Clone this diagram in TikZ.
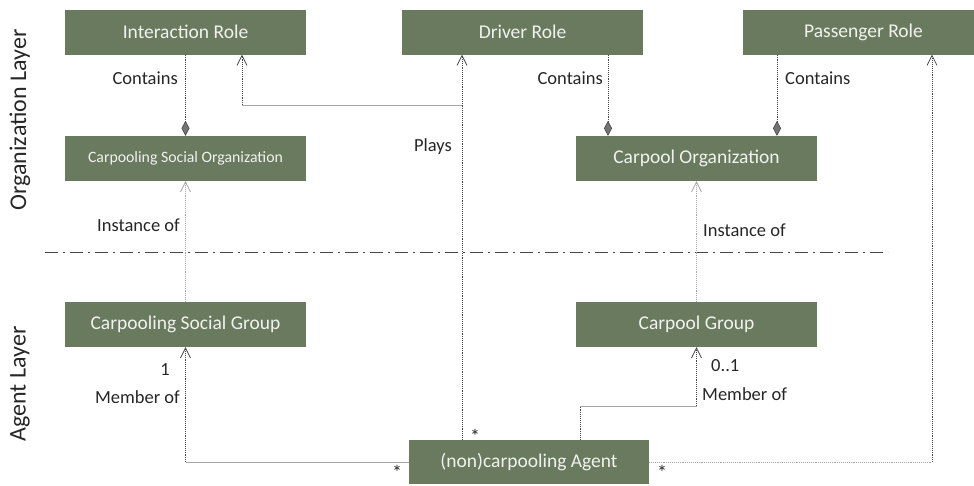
\documentclass[tikz,border=0pt]{standalone}
\usepackage{fontspec}
\setmainfont{Carlito}
\usetikzlibrary{arrows.meta}
\definecolor{boxgreen}{RGB}{106,122,94}
\definecolor{boxtext}{RGB}{240,242,238}
\definecolor{lbltext}{RGB}{38,38,38}
\definecolor{darkline}{RGB}{70,70,70}
\definecolor{lightline}{RGB}{165,165,165}
\tikzset{
  box/.style={fill=boxgreen, text=boxtext, minimum width=241pt, minimum height=45pt, inner sep=0pt, font=\fontsize{19.5}{22}\selectfont},
  lbl/.style={text=lbltext, inner sep=0pt, font=\fontsize{18.5}{21}\selectfont},
  mult/.style={text=lbltext, inner sep=0pt, text depth=0pt, anchor=base, font=\fontsize{20}{22}\selectfont},
  layer/.style={text=lbltext, inner sep=0pt, rotate=90, font=\fontsize{24}{26}\selectfont},
  dk/.style={densely dotted, darkline, line width=0.9pt},
  lt/.style={densely dotted, lightline, line width=0.9pt},
  gl/.style={lightline, line width=0.9pt},
  openarrow/.style={-{Straight Barb[length=10pt,width=10pt,line width=0.7pt]}},
  composition/.style={-{Diamond[length=15pt,width=8pt,fill=black!55,line width=0.6pt]}},
  sep/.style={dash pattern=on 13pt off 5pt on 2pt off 5pt, darkline, line width=0.8pt}
}
\begin{document}
\begin{tikzpicture}[x=1pt,y=-1pt]
\useasboundingbox (0,0) rectangle (974,485);

% boxes
\node[box] (IR) at (185.5,32) {Interaction Role};
\node[box] (DR) at (522.5,32) {Driver Role};
\node[box] (PR) at (863.5,32) {Passenger Role};
\node[box, font=\fontsize{15.8}{18}\selectfont] (CSO) at (185.5,158.5) {Carpooling Social Organization};
\node[box] (CO) at (696.5,158.5) {Carpool Organization};
\node[box] (CSG) at (185.5,324.5) {Carpooling Social Group};
\node[box] (CG) at (696.5,324.5) {Carpool Group};
\node[box, minimum width=240pt, minimum height=44pt] (AG) at (529,462) {(non)carpooling Agent};

% layer labels
\node[layer] (OL) at (20,120) {Organization Layer};
\node[layer] (AL) at (20,384) {Agent Layer};

% separator
\coordinate (sepL) at (45,252);
\coordinate (sepR) at (888,252);
\draw[sep] (sepL) -- (sepR);

% Contains
\draw[dk, composition] (IR.south) -- (CSO.north);
\draw[dk, composition] (DR.south -| 608,0) -- (CO.north -| 608,0);
\draw[dk, composition] (PR.south -| 777,0) -- (CO.north -| 777,0);
\node[lbl, anchor=east] (c1) at (178,78) {Contains};
\node[lbl, anchor=east] (c2) at (603,78) {Contains};
\node[lbl, anchor=west] (c3) at (785,78) {Contains};

% Plays
\coordinate (pj) at (462,105);
\draw[dk, openarrow] (AG.north -| pj) -- (DR.south -| pj);
\draw[gl] (pj) -- (242,105);
\draw[dk, openarrow] (242,105) -- (IR.south -| 242,0);
\node[lbl, anchor=east] (plays) at (452,147) {Plays};
\node[mult] (m1) at (475,443) {*};

% Instance of
\draw[lt, openarrow] (CSG.north) -- (CSO.south);
\draw[lt, openarrow] (CG.north) -- (CO.south);
\node[lbl, anchor=east] (i1) at (180,225) {Instance of};
\node[lbl, anchor=west] (i2) at (703,230) {Instance of};

% Member of (social group)
\coordinate (mb1) at (185.5,462);
\draw[gl] (AG.west) -- (mb1);
\draw[dk, openarrow] (mb1) -- (CSG.south);
\node[lbl] (one) at (165,370) {1};
\node[lbl, anchor=east] (mo1) at (180,397) {Member of};
\node[mult] (m2) at (397,479) {*};

% Member of (carpool group)
\coordinate (mb2a) at (580,406);
\coordinate (mb2b) at (696.5,406);
\draw[dk] (AG.north -| mb2a) -- (mb2a);
\draw[gl] (mb2a) -- (mb2b);
\draw[dk, openarrow] (mb2b) -- (CG.south);
\node[lbl, anchor=west] (zo) at (711,366) {0..1};
\node[lbl, anchor=west] (mo2) at (702,394) {Member of};

% Plays passenger
\coordinate (pp) at (932,462);
\draw[lt] (AG.east) -- (pp);
\draw[dk, openarrow] (pp) -- (PR.south -| pp);
\node[mult] (m3) at (662,479) {*};
\end{tikzpicture}
\end{document}
